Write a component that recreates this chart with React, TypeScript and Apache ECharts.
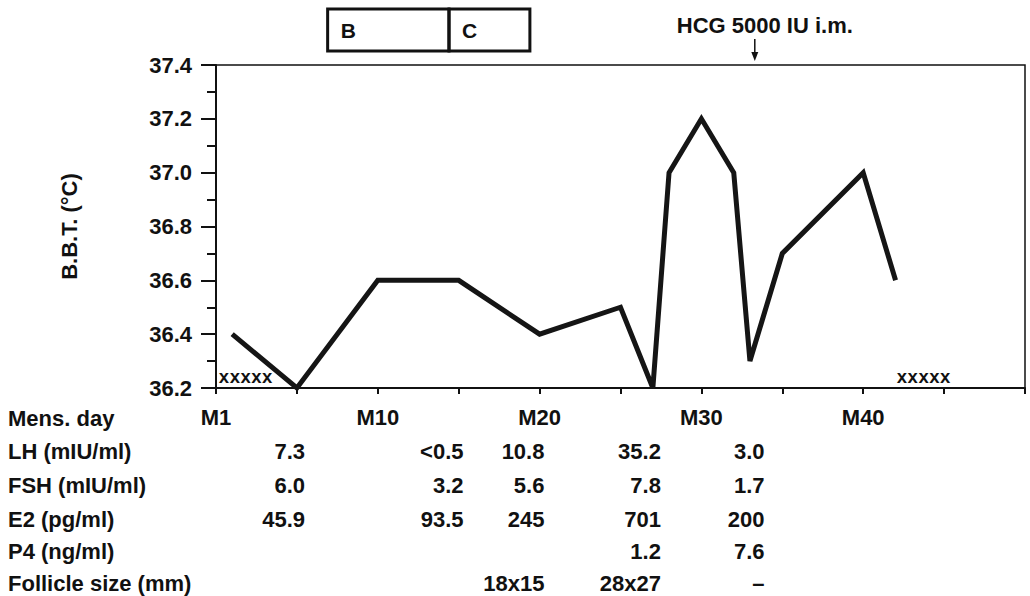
import React, { useEffect, useRef } from "react";
import * as echarts from "echarts";

// ---- data ----
const days = [1, 5, 10, 15, 20, 25, 27, 28, 30, 32, 33, 35, 40, 42];
const bbt = [36.4, 36.2, 36.6, 36.6, 36.4, 36.5, 36.2, 37.0, 37.2, 37.0, 36.3, 36.7, 37.0, 36.6];
const dayLabels: Record<number, string> = { 0: "M1", 10: "M10", 20: "M20", 30: "M30", 40: "M40" };
const tableRowLabels = ["LH (mIU/ml)", "FSH (mIU/ml)", "E2 (pg/ml)", "P4 (ng/ml)", "Follicle size (mm)"];
const sampleDays = [5.5, 15.3, 20.3, 27.5, 33.9];
const lhValues = ["7.3", "<0.5", "10.8", "35.2", "3.0"];
const fshValues = ["6.0", "3.2", "5.6", "7.8", "1.7"];
const e2Values = ["45.9", "93.5", "245", "701", "200"];
const p4Values = ["", "", "", "1.2", "7.6"];
const follicleValues = ["", "", "18x15", "28x27", "–"];
const phaseNames = ["B", "C"];
const phaseStarts = [6.9, 14.4];
const phaseEnds = [14.4, 19.4];
const mensesStarts = [0.1, 42];
const hcgDay = 33.3;
const hcgText = "HCG 5000 IU i.m.";

const FONT = "'Liberation Sans', Arial, Helvetica, sans-serif";

export default function App() {
  const ref = useRef<HTMLDivElement>(null);
  useEffect(() => {
    document.body.style.margin = "0";
    const chart = echarts.init(ref.current!, undefined, { renderer: "svg" });
    chart.setOption({
      animation: false,
      backgroundColor: "#ffffff",
      grid: {
        left: 216,
        top: 65,
        right: 5,
        bottom: 208,
        show: true,
        borderColor: "#111",
        borderWidth: 1.5,
        backgroundColor: "transparent",
      },
      xAxis: {
        type: "value",
        min: 0,
        max: 50,
        interval: 5,
        splitLine: { show: false },
        axisLine: { lineStyle: { color: "#111", width: 2 } },
        axisTick: { length: 6, lineStyle: { color: "#111", width: 2 } },
        axisLabel: {
          margin: 18,
          color: "#111",
          fontFamily: FONT,
          fontWeight: "bold",
          fontSize: 22,
          showMaxLabel: true,
          formatter: (v: number) => dayLabels[v] || "",
        },
      },
      yAxis: {
        type: "value",
        min: 36.2,
        max: 37.4,
        interval: 0.2,
        name: "B.B.T. (°C)",
        nameLocation: "middle",
        nameRotate: 90,
        nameGap: 136,
        nameTextStyle: { fontFamily: FONT, fontWeight: "bold", fontSize: 22, color: "#111" },
        splitLine: { show: false },
        axisLine: { show: true, lineStyle: { color: "#111", width: 2 } },
        axisTick: { show: true, length: 15, lineStyle: { color: "#111", width: 2 } },
        minorTick: { show: true, splitNumber: 2, length: 9, lineStyle: { color: "#111", width: 2 } },
        minorSplitLine: { show: false },
        axisLabel: {
          margin: 24,
          color: "#111",
          fontFamily: FONT,
          fontWeight: "bold",
          fontSize: 22,
          formatter: (v: number) => v.toFixed(1),
        },
      },
      series: [
        {
          type: "line",
          data: days.map((d, i) => [d, bbt[i]]),
          showSymbol: false,
          symbol: "none",
          clip: false,
          lineStyle: { color: "#151515", width: 5, join: "miter", miterLimit: 3 },
        },
      ],
    });

    const px = (d: number) => chart.convertToPixel({ xAxisIndex: 0 }, d) as number;
    const py = (v: number) => chart.convertToPixel({ yAxisIndex: 0 }, v) as number;
    const graphics: any[] = [];
    const txt = (text: string, x: number, y: number, align: string, size = 22, extra: any = {}) => ({
      type: "text",
      x,
      y,
      style: {
        text,
        fill: "#111",
        font: `bold ${size}px ${FONT}`,
        textAlign: align,
        textVerticalAlign: "middle",
        ...extra,
      },
    });

    // phase boxes
    phaseNames.forEach((n, i) => {
      const x0 = px(phaseStarts[i]);
      const x1 = px(phaseEnds[i]);
      graphics.push({
        type: "rect",
        shape: { x: x0, y: 9, width: x1 - x0, height: 42 },
        style: { fill: "none", stroke: "#111", lineWidth: 3 },
      });
      graphics.push(txt(n, x0 + 13, 30, "left", 21));
    });

    // HCG annotation
    const hx = px(hcgDay);
    graphics.push(txt(hcgText, hx + 10, 25, "center", 22));
    graphics.push({ type: "line", shape: { x1: hx, y1: 39, x2: hx, y2: 54 }, style: { stroke: "#111", lineWidth: 1.5 } });
    graphics.push({ type: "polygon", shape: { points: [[hx - 3.5, 52], [hx + 3.5, 52], [hx, 61]] }, style: { fill: "#111" } });

    // menses marks
    const baseY = py(36.2);
    mensesStarts.forEach((d) => {
      graphics.push({
        type: "text",
        x: px(d) + 1,
        y: baseY - 1,
        style: {
          text: "xxxxx",
          fill: "#111",
          font: `bold 18px 'Liberation Mono', 'DejaVu Sans Mono', monospace`,
          textAlign: "left",
          textVerticalAlign: "bottom",
        },
      });
    });

    // table
    graphics.push(txt("Mens. day", 8, 418, "left", 22));
    const rowYs = [451, 485, 519, 551, 583];
    const rows = [lhValues, fshValues, e2Values, p4Values, follicleValues];
    tableRowLabels.forEach((l, r) => {
      graphics.push(txt(l, 8, rowYs[r], "left", 22));
      rows[r].forEach((v, c) => {
        if (v) graphics.push(txt(v, px(sampleDays[c]), rowYs[r], "right", 22));
      });
    });

    chart.setOption({ graphic: graphics });
    return () => chart.dispose();
  }, []);
  return <div ref={ref} style={{ position: "absolute", left: 0, top: 0, width: 1030, height: 596 }} />;
}
